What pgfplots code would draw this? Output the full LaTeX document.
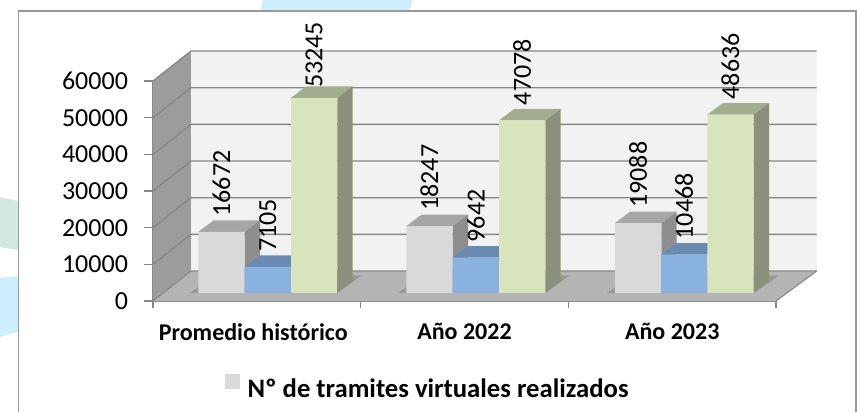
\documentclass[border=0pt]{standalone}
\usepackage{pgfplots}
\usepackage{pgfplotstable}
\usepackage{fontspec}
\setmainfont{Carlito}
\pgfplotsset{compat=1.18}

\definecolor{greyfront}{HTML}{D9D9D9}
\definecolor{greytop}{HTML}{A6A6A6}
\definecolor{greyside}{HTML}{8E8E8E}
\definecolor{bluefront}{HTML}{8AB2E0}
\definecolor{bluetop}{HTML}{6A8AB2}
\definecolor{greenfront}{HTML}{D7E4BC}
\definecolor{greentop}{HTML}{A3AE90}
\definecolor{greenside}{HTML}{8A9079}
\definecolor{wallback}{HTML}{F2F2F2}
\definecolor{wallside}{HTML}{9C9C9C}
\definecolor{floorc}{HTML}{B4B4B4}
\definecolor{gridc}{HTML}{868686}
\definecolor{bgblue}{HTML}{CEEEFD}
\definecolor{bggreen}{HTML}{D2E8E0}

% unit shapes of the 3D faces: a = along width, b = along depth, h = up to the value
\pgfplotstableread{
a b h
0 0 1
1 0 1
1 1 1
0 1 1
}\topshape
\pgfplotstableread{
a b h
1 0 1
1 1 1
1 1 0
1 0 0
}\sideshape

% #1 left edge, #2 value, #3 colour
\newcommand{\topface}[3]{\addplot[fill=#3,draw=none,forget plot,yshift=6pt]
  table[x expr=#1+\thisrow{a}*46.3+\thisrow{b}*15.4, y expr=#2+\thisrow{b}*3136] {\topshape} -- cycle;}
\newcommand{\sideface}[3]{\addplot[fill=#3,draw=none,forget plot,yshift=6pt]
  table[x expr=#1+\thisrow{a}*46.3+\thisrow{b}*15.4, y expr=#2*\thisrow{h}+\thisrow{b}*3136] {\sideshape} -- cycle;}

\pgfplotsset{barlabel/.style={
    nodes near coords,
    nodes near coords style={rotate=90,anchor=west,xshift=#1,black,
      font=\fontsize{19.5}{20}\selectfont,
      /pgf/number format/assume math mode=true}}}

\begin{document}
\begin{tikzpicture}
\begin{scope}[x=0.75pt,y=0.75pt]
  \path[use as bounding box] (0,0) rectangle (857,412);
  \fill[white] (0,0) rectangle (857,412);
  \fill[bgblue] (263,412) -- (413,412) -- (409,401) -- (260,401) -- cycle;
  \fill[bggreen] (0,215) -- (18,211) -- (18,162) -- (0,165) -- cycle;
  \fill[bgblue] (0,134) -- (18,136) -- (18,80) -- (0,75) -- cycle;
  \draw[draw=white,fill=white] (18.5,0) rectangle (856,401);
  \draw[color=black!40,line width=0.8pt] (18.5,0) -- (18.5,401) -- (856,401) -- (856,0);
\end{scope}
\begin{axis}[
    at={(114.75pt,83.25pt)},
    anchor=south west,
    scale only axis,
    width=467.25pt, height=165pt,
    xmin=153, xmax=776,
    ymin=0, ymax=60000,
    clip=false,
    axis x line*=bottom,
    axis y line*=left,
    axis line style={gridc,line width=1pt,-},
    ytick={0,10000,20000,30000,40000,50000,60000},
    scaled y ticks=false,
    xtick={253.3,464.5,672.2},
    xticklabels={Promedio histórico,Año 2022,Año 2023},
    minor xtick={153,360.7,568.3,776},
    tick align=outside,
    major tick length=6.75pt,
    minor tick length=5.25pt,
    tick style={gridc,line width=0.8pt},
    major x tick style={draw=none},
    minor x tick style={gridc,line width=0.8pt},
    /pgf/number format/1000 sep={},
    /pgf/number format/assume math mode=true,
    yticklabel style={font=\fontsize{19.5}{20}\selectfont,xshift=-8.5pt},
    xticklabel style={font=\fontsize{18}{19}\selectfont\bfseries,yshift=-6.5pt},
    legend style={at={(0.4415,-0.395)},anchor=center,draw=none,fill=none,
      font=\fontsize{20}{21}\selectfont\bfseries},
  ]

  % walls and floor
  \addplot[fill=wallback,draw=none,forget plot] coordinates {(191,8182)(816.7,8182)(816.7,68182)(191,68182)} -- cycle;
  \addplot[fill=wallside,draw=none,forget plot] coordinates {(153,0)(191,8182)(191,68182)(153,60000)} -- cycle;
  \addplot[fill=floorc,draw=none,forget plot] coordinates {(153,0)(776,0)(816.7,8182)(191,8182)} -- cycle;

  % grid lines
  \pgfplotsinvokeforeach{10000,20000,30000,40000,50000,60000}{
    \addplot[gridc,line width=1pt,forget plot] coordinates {(153,#1)(191,#1+8182)(816.7,#1+8182)};
  }
  \addplot[gridc,line width=0.8pt,forget plot] coordinates {(153,0)(191,8182)(816.7,8182)};
  \addplot[gridc,line width=0.8pt,forget plot] coordinates {(776,0)(816.7,8182)};

  % shadows on the floor
  \addplot[fill=black!40,draw=none,forget plot] coordinates {(190,2182)(337,2182)(362,7000)(215,7000)} -- cycle;
  \addplot[fill=black!40,draw=none,forget plot] coordinates {(398,2182)(545,2182)(570,7000)(423,7000)} -- cycle;
  \addplot[fill=black!40,draw=none,forget plot] coordinates {(607,2182)(754,2182)(779,7000)(632,7000)} -- cycle;

  % tramites, grey
  \topface{198.3}{16672}{greytop}
  \topface{406.3}{18247}{greytop}
  \topface{615.0}{19088}{greytop}
  \sideface{198.3}{16672}{greyside}
  \sideface{406.3}{18247}{greyside}
  \sideface{615.0}{19088}{greyside}
  \addplot[ybar,bar width=46.3,bar shift=0pt,fill=greyfront,draw=none,yshift=6pt,
    legend image code/.code={\fill[greyfront] (0pt,-5.6pt) rectangle (11.25pt,5.6pt);\path (0pt,0pt) -- (15pt,0pt);},
    barlabel=8pt]
    coordinates {(221.45,16672)(429.45,18247)(638.15,19088)};
  \addlegendentry{Nº de tramites virtuales realizados}

  % blue
  \topface{244.6}{7105}{bluetop}
  \topface{452.7}{9642}{bluetop}
  \topface{661.0}{10468}{bluetop}
  \addplot[ybar,bar width=46.3,bar shift=0pt,fill=bluefront,draw=none,yshift=6pt,forget plot,
    barlabel=8pt]
    coordinates {(267.75,7105)(475.85,9642)(684.15,10468)};

  % green
  \addplot[ybar,bar width=46.3,bar shift=0pt,fill=none,draw=none,yshift=6pt,forget plot,
    barlabel=4pt]
    coordinates {(314.15,53245)};
  \topface{291.0}{53245}{greentop}
  \topface{499.0}{47078}{greentop}
  \topface{707.3}{48636}{greentop}
  \sideface{291.0}{53245}{greenside}
  \sideface{499.0}{47078}{greenside}
  \sideface{707.3}{48636}{greenside}
  \addplot[ybar,bar width=46.3,bar shift=0pt,fill=greenfront,draw=none,yshift=6pt,forget plot]
    coordinates {(314.15,53245)};
  \addplot[ybar,bar width=46.3,bar shift=0pt,fill=greenfront,draw=none,yshift=6pt,forget plot,
    barlabel=8pt]
    coordinates {(522.15,47078)(730.45,48636)};
\end{axis}
\end{tikzpicture}
\end{document}
